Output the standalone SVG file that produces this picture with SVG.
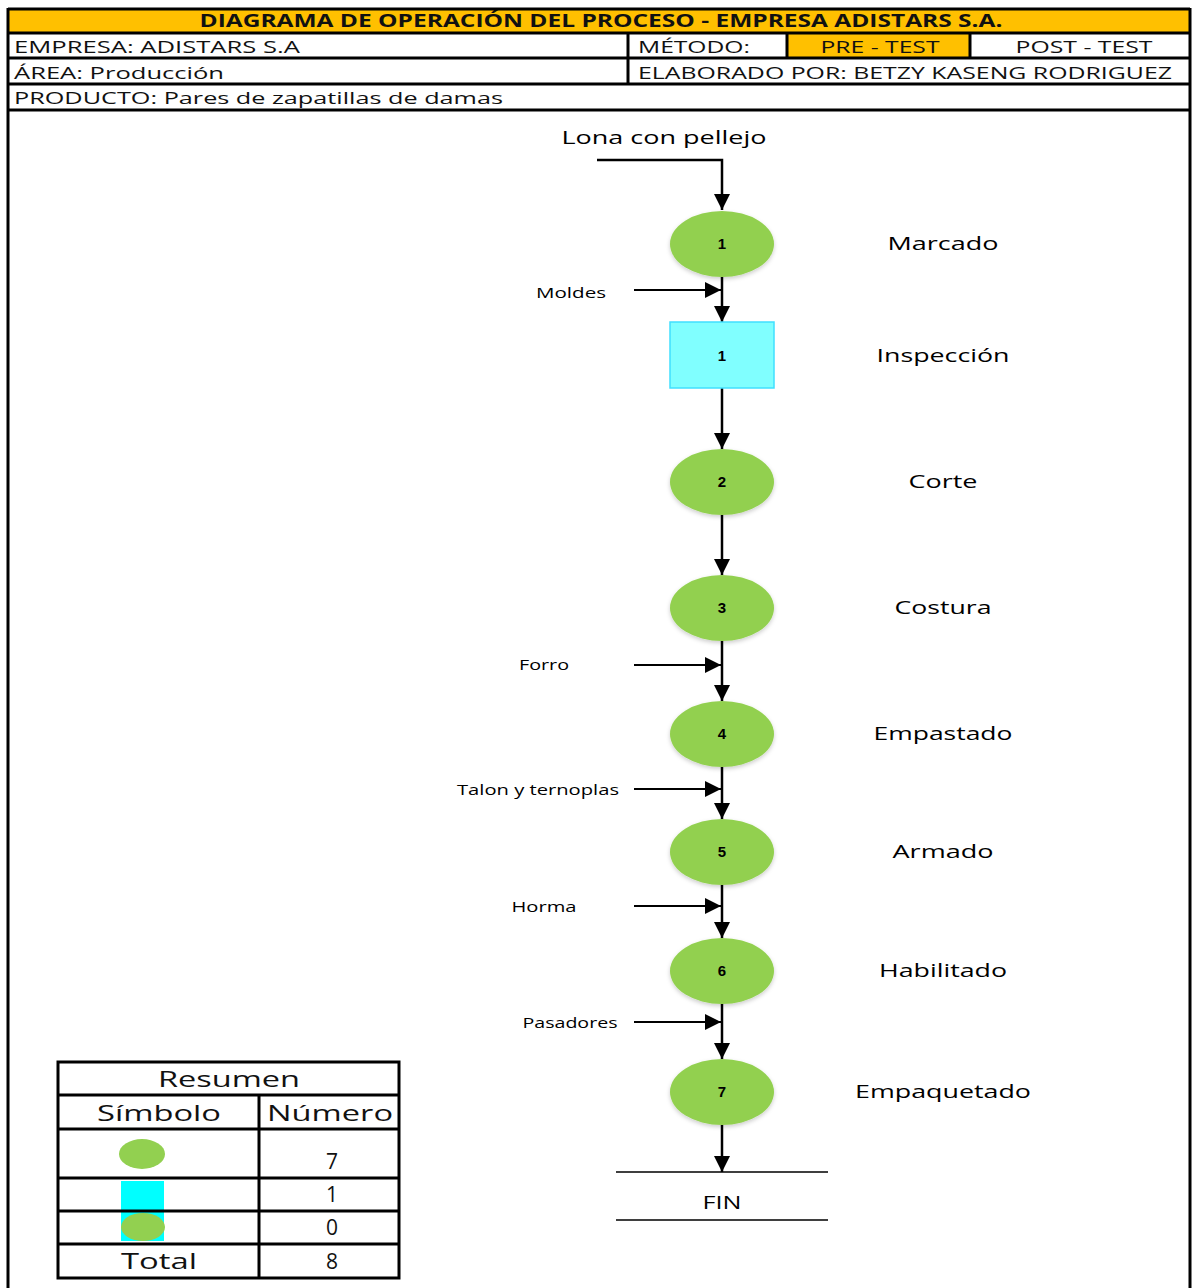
<svg xmlns="http://www.w3.org/2000/svg" width="1192" height="1288" viewBox="0 0 1192 1288">
<defs>
<marker id="ahb" viewBox="0 0 10 10" refX="10" refY="5" markerWidth="16" markerHeight="16" markerUnits="userSpaceOnUse" orient="auto"><path d="M0,0 L10,5 L0,10 z" fill="#000"/></marker>
<filter id="sh" x="-20%" y="-20%" width="140%" height="150%"><feDropShadow dx="0" dy="2" stdDeviation="2" flood-color="#000" flood-opacity="0.2"/></filter>
</defs>
<style>
.h{font-family:"Open Sans","Liberation Sans",sans-serif;font-size:17px;fill:#111}
.hb{font-family:"Open Sans","Liberation Sans",sans-serif;font-size:17px;font-weight:bold;fill:#111}
.g{stroke:#000;stroke-width:3;fill:none}
.op{fill:#92d050;filter:url(#sh)}
.num{font-family:"Liberation Sans",sans-serif;font-size:15px;font-weight:bold;fill:#000;text-anchor:middle}
.lbl{font-family:"Open Sans","Liberation Sans",sans-serif;font-size:19px;fill:#000;text-anchor:middle}
.sm{font-family:"Open Sans","Liberation Sans",sans-serif;font-size:14px;fill:#000;text-anchor:middle}
.c{stroke:#000;stroke-width:2.5;fill:none}
.ci{stroke:#000;stroke-width:2;fill:none}
.t{font-family:"Open Sans","Liberation Sans",sans-serif;font-size:21px;fill:#111;text-anchor:middle}
</style>
<rect width="1192" height="1288" fill="#fff"/>
<g id="header">
<rect x="8" y="9" width="1182" height="24" fill="#ffc000"/>
<rect x="787" y="33" width="183" height="25" fill="#ffc000"/>
<text class="hb" x="601" y="27" text-anchor="middle" textLength="803" lengthAdjust="spacingAndGlyphs">DIAGRAMA DE OPERACIÓN DEL PROCESO - EMPRESA ADISTARS S.A.</text>
<text class="h" x="14" y="53" textLength="286" lengthAdjust="spacingAndGlyphs">EMPRESA: ADISTARS S.A</text>
<text class="h" x="638" y="53" textLength="112" lengthAdjust="spacingAndGlyphs">MÉTODO:</text>
<text class="h" x="880" y="53" text-anchor="middle" textLength="119" lengthAdjust="spacingAndGlyphs">PRE - TEST</text>
<text class="h" x="1084" y="53" text-anchor="middle" textLength="137" lengthAdjust="spacingAndGlyphs">POST - TEST</text>
<text class="h" x="14" y="79" textLength="210" lengthAdjust="spacingAndGlyphs">ÁREA: Producción</text>
<text class="h" x="638" y="79" textLength="534" lengthAdjust="spacingAndGlyphs">ELABORADO POR: BETZY KASENG RODRIGUEZ</text>
<text class="h" x="14" y="104" textLength="489" lengthAdjust="spacingAndGlyphs">PRODUCTO: Pares de zapatillas de damas</text>
<path class="g" d="M8,9 H1190 M8,33 H1190 M8,58 H1190 M8,84 H1190 M8,110 H1190"/>
<path class="g" d="M628,33 V84 M787,33 V58 M970,33 V58"/>
<path class="g" d="M8,8 V1288 M1190,8 V1288"/>
</g>
<g id="connectors">
<path class="c" d="M597,160 H722 V210" marker-end="url(#ahb)"/>
<path class="c" d="M722,277 V322" marker-end="url(#ahb)"/>
<path class="c" d="M722,388 V449" marker-end="url(#ahb)"/>
<path class="c" d="M722,515 V575" marker-end="url(#ahb)"/>
<path class="c" d="M722,641 V701" marker-end="url(#ahb)"/>
<path class="c" d="M722,767 V819" marker-end="url(#ahb)"/>
<path class="c" d="M722,885 V938" marker-end="url(#ahb)"/>
<path class="c" d="M722,1004 V1059" marker-end="url(#ahb)"/>
<path class="c" d="M722,1125 V1172" marker-end="url(#ahb)"/>
<path class="ci" d="M634,290 H721" marker-end="url(#ahb)"/>
<path class="ci" d="M634,665 H721" marker-end="url(#ahb)"/>
<path class="ci" d="M634,789 H721" marker-end="url(#ahb)"/>
<path class="ci" d="M634,906 H721" marker-end="url(#ahb)"/>
<path class="ci" d="M634,1022 H721" marker-end="url(#ahb)"/>
</g>
<g id="input-lona"><text class="lbl" x="664" y="144" textLength="205" lengthAdjust="spacingAndGlyphs">Lona con pellejo</text></g>
<g id="op1"><ellipse class="op" cx="722" cy="244" rx="52" ry="33"/><text class="num" x="722" y="249">1</text><text class="lbl" x="943" y="250" textLength="111" lengthAdjust="spacingAndGlyphs">Marcado</text></g>
<g id="in-moldes"><text class="sm" x="571" y="298" textLength="70" lengthAdjust="spacingAndGlyphs">Moldes</text></g>
<g id="insp1"><rect x="670" y="322" width="104" height="66" fill="#80ffff" stroke="#40e0ff" stroke-width="1.5"/><text class="num" x="722" y="361">1</text><text class="lbl" x="943" y="362" textLength="133" lengthAdjust="spacingAndGlyphs">Inspección</text></g>
<g id="op2"><ellipse class="op" cx="722" cy="482" rx="52" ry="33"/><text class="num" x="722" y="487">2</text><text class="lbl" x="943" y="488" textLength="69" lengthAdjust="spacingAndGlyphs">Corte</text></g>
<g id="op3"><ellipse class="op" cx="722" cy="608" rx="52" ry="33"/><text class="num" x="722" y="613">3</text><text class="lbl" x="943" y="614" textLength="97" lengthAdjust="spacingAndGlyphs">Costura</text></g>
<g id="in-forro"><text class="sm" x="544" y="670" textLength="50" lengthAdjust="spacingAndGlyphs">Forro</text></g>
<g id="op4"><ellipse class="op" cx="722" cy="734" rx="52" ry="33"/><text class="num" x="722" y="739">4</text><text class="lbl" x="943" y="740" textLength="139" lengthAdjust="spacingAndGlyphs">Empastado</text></g>
<g id="in-talon"><text class="sm" x="538" y="795" textLength="162" lengthAdjust="spacingAndGlyphs">Talon y ternoplas</text></g>
<g id="op5"><ellipse class="op" cx="722" cy="852" rx="52" ry="33"/><text class="num" x="722" y="857">5</text><text class="lbl" x="943" y="858" textLength="101" lengthAdjust="spacingAndGlyphs">Armado</text></g>
<g id="in-horma"><text class="sm" x="544" y="912" textLength="65" lengthAdjust="spacingAndGlyphs">Horma</text></g>
<g id="op6"><ellipse class="op" cx="722" cy="971" rx="52" ry="33"/><text class="num" x="722" y="976">6</text><text class="lbl" x="943" y="977" textLength="128" lengthAdjust="spacingAndGlyphs">Habilitado</text></g>
<g id="in-pasadores"><text class="sm" x="570" y="1028" textLength="95" lengthAdjust="spacingAndGlyphs">Pasadores</text></g>
<g id="op7"><ellipse class="op" cx="722" cy="1092" rx="52" ry="33"/><text class="num" x="722" y="1097">7</text><text class="lbl" x="943" y="1098" textLength="176" lengthAdjust="spacingAndGlyphs">Empaquetado</text></g>
<g id="fin"><path d="M616,1172 H828 M616,1220 H828" stroke="#000" stroke-width="1.5"/><text class="lbl" x="722" y="1209" textLength="39" lengthAdjust="spacingAndGlyphs">FIN</text></g>
<g id="resumen">
<ellipse cx="142" cy="1154" rx="23" ry="15" fill="#92d050"/>
<rect x="121" y="1181" width="43" height="60" fill="#00ffff"/>
<ellipse cx="143" cy="1227" rx="22" ry="14" fill="#92d050"/>
<path class="g" d="M58,1062 H399 V1278 H58 Z M58,1095 H399 M58,1129 H399 M58,1178 H399 M58,1211 H399 M58,1244 H399 M259,1095 V1278"/>
<text class="t" x="229" y="1087" textLength="142" lengthAdjust="spacingAndGlyphs">Resumen</text>
<text class="t" x="159" y="1121" textLength="124" lengthAdjust="spacingAndGlyphs">Símbolo</text>
<text class="t" x="330" y="1121" textLength="126" lengthAdjust="spacingAndGlyphs">Número</text>
<text class="t" x="332" y="1169">7</text>
<text class="t" x="332" y="1202">1</text>
<text class="t" x="332" y="1235">0</text>
<text class="t" x="159" y="1269" textLength="76" lengthAdjust="spacingAndGlyphs">Total</text>
<text class="t" x="332" y="1269">8</text>
</g>
</svg>
